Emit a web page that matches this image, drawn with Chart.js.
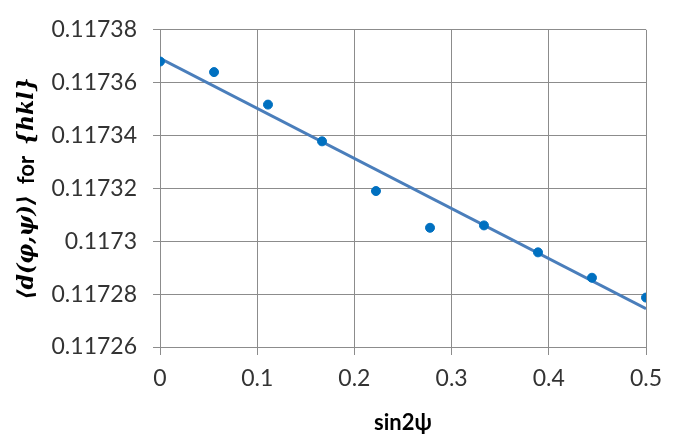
<!DOCTYPE html>
<html><head><meta charset="utf-8">
<script src="https://cdn.jsdelivr.net/npm/chart.js@4"></script>
<style>html,body{margin:0;padding:0;background:#fff}#wrap{width:691px;height:436px}</style>
</head><body><div id="wrap"><canvas id="c" width="691" height="436"></canvas></div>
<script>
const xValues = [0, 0.0556, 0.1111, 0.1667, 0.2222, 0.2778, 0.3333, 0.3889, 0.4444, 0.5];
const yValues = [0.117368, 0.117364, 0.1173517, 0.1173378, 0.117319, 0.1173051, 0.117306, 0.1172958, 0.1172862, 0.1172787];
const trendX = [0, 0.5];
const trendY = [0.1173692, 0.1172745];
const xTickLabels = ['0', '0.1', '0.2', '0.3', '0.4', '0.5'];
const yTickLabels = ['0.11726', '0.11728', '0.1173', '0.11732', '0.11734', '0.11736', '0.11738'];
const xTitle = 'sin2ψ';
const yTitleParts = [['⟨d(φ,ψ)⟩', 'math'], ['  for  ', 'bold'], ['{hkl}', 'math']];

const FONT = 'Lato';
const yTitlePlugin = {
  id: 'yTitle',
  afterDraw(chart) {
    const ctx = chart.ctx;
    const area = chart.chartArea;
    const fonts = { math: 'italic bold 22px "DejaVu Serif"', bold: 'bold 22px ' + FONT };
    ctx.save();
    let total = 0;
    for (const [t, k] of yTitleParts) { ctx.font = fonts[k]; total += ctx.measureText(t).width; }
    ctx.translate(27, (area.top + area.bottom) / 2);
    ctx.rotate(-Math.PI / 2);
    ctx.fillStyle = '#000';
    ctx.textBaseline = 'middle';
    let x = -total / 2;
    for (const [t, k] of yTitleParts) { ctx.font = fonts[k]; ctx.fillText(t, x, 0); x += ctx.measureText(t).width; }
    ctx.restore();
  }
};

new Chart(document.getElementById('c'), {
  type: 'scatter',
  data: {
    datasets: [
      { label: 'data', data: xValues.map((x, i) => ({ x, y: yValues[i] })), backgroundColor: '#0070c0', borderColor: '#0070c0', pointRadius: 4.5, pointHoverRadius: 4.5, order: 1 },
      { label: 'trend', type: 'line', data: trendX.map((x, i) => ({ x, y: trendY[i] })), borderColor: '#4a7ebb', borderWidth: 3, pointRadius: 0, fill: false, order: 2 }
    ]
  },
  plugins: [yTitlePlugin],
  options: {
    responsive: false, animation: false, devicePixelRatio: 1,
    layout: { padding: { left: 10, top: 15, right: 45, bottom: 0 } },
    plugins: { legend: { display: false }, tooltip: { enabled: false } },
    scales: {
      x: {
        type: 'linear', min: 0, max: 0.5,
        afterBuildTicks: s => { s.ticks = xTickLabels.map(v => ({ value: parseFloat(v), label: v })); },
        afterFit: s => { s.height = 89; },
        ticks: { callback: (v) => xTickLabels.find(l => Math.abs(parseFloat(l) - v) < 1e-9) || '', color: '#333', font: { family: FONT, size: 23 }, padding: 10, maxRotation: 0 },
        grid: { color: '#8c8c8c', lineWidth: 1, tickLength: 8, drawTicks: true },
        border: { color: '#8c8c8c' },
        title: { display: true, text: xTitle, color: '#000', font: { family: FONT, size: 22, weight: 'bold' }, padding: { top: 0, bottom: 0 } }
      },
      y: {
        type: 'linear', min: 0.11726, max: 0.11738,
        afterBuildTicks: s => { s.ticks = yTickLabels.map(v => ({ value: parseFloat(v), label: v })); },
        afterFit: s => { s.width = 150; },
        ticks: { callback: (v) => yTickLabels.find(l => Math.abs(parseFloat(l) - v) < 1e-9) || '', color: '#333', font: { family: FONT, size: 23 }, padding: 16 },
        grid: { color: '#8c8c8c', lineWidth: 1, tickLength: 7, drawTicks: true },
        border: { color: '#8c8c8c' }
      }
    }
  }
});
</script></body></html>
